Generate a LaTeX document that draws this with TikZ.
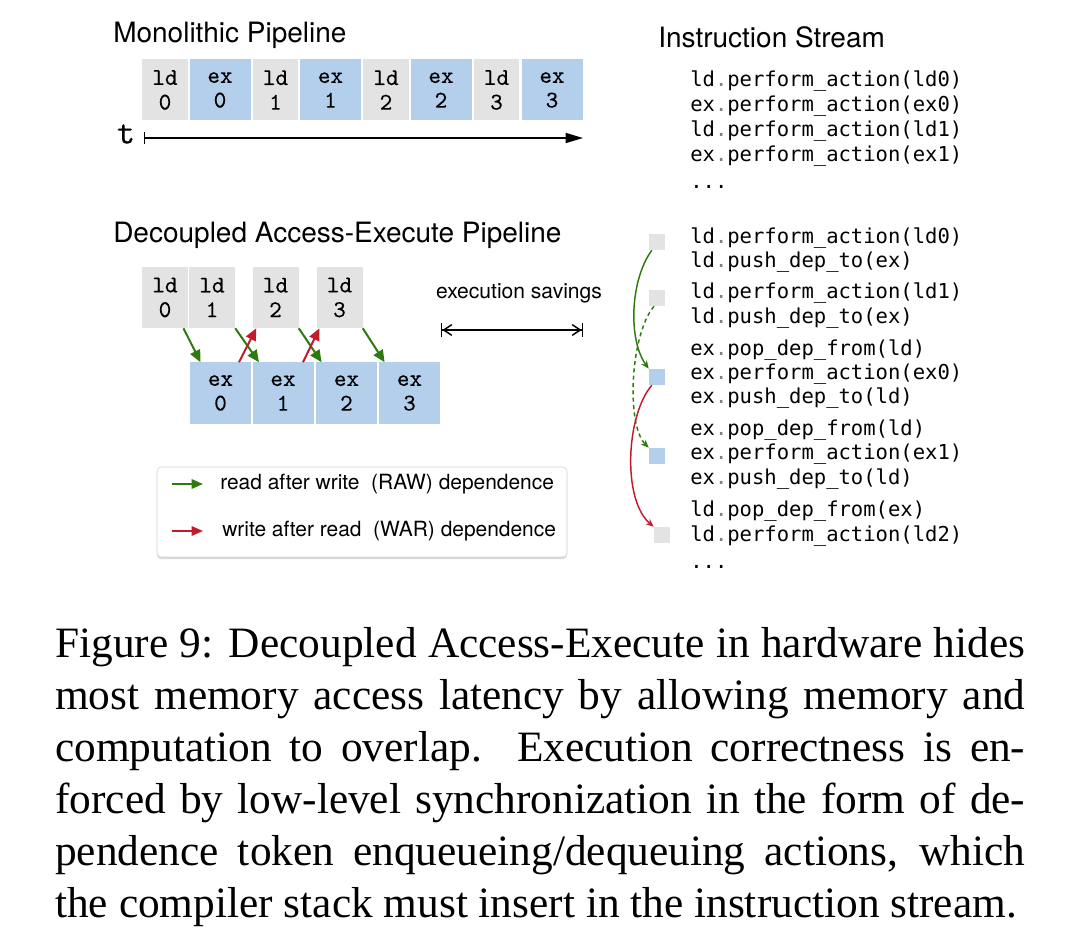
\documentclass[tikz,border=0pt]{standalone}
\usepackage{fontspec}
\setmainfont{Liberation Serif}
\newfontfamily\heros{TeX Gyre Heros}
\newfontfamily\dejamono{DejaVu Sans Mono}
\newfontfamily\blockmono{lmmono10-regular.otf}[FakeBold=0.25]
\usetikzlibrary{arrows.meta,shadows}
\definecolor{ldgray}{RGB}{227,227,227}
\definecolor{exblue}{RGB}{179,207,236}
\definecolor{rawgreen}{RGB}{46,122,14}
\definecolor{warred}{RGB}{196,26,44}
\newcommand\dt{{\color{gray}.}}

\begin{document}
\begin{tikzpicture}[x=0.75pt, y=-0.75pt,
    ldbox/.style={fill=ldgray, minimum width=34pt, minimum height=45.75pt, inner sep=0pt,
      align=center, font=\blockmono\fontsize{18}{18.5}\selectfont},
    exbox/.style={ldbox, fill=exblue, minimum width=45.75pt},
    token/.style={minimum size=12pt, inner sep=0pt},
    heading/.style={anchor=base west, inner sep=0pt, font=\heros\fontsize{21}{21}\selectfont},
    codeline/.style={anchor=mid west, inner sep=0pt, font=\dejamono\fontsize{15.4}{18}\selectfont},
    capline/.style={anchor=base west, inner sep=0pt, font=\fontsize{32.5}{39}\selectfont},
    rawdep/.style={draw=rawgreen, line width=1.5pt, -{Triangle[length=9pt,width=8pt]}},
    wardep/.style={rawdep, draw=warred},
    tokdep/.style={line width=1.1pt, -{Stealth[length=6pt,width=5pt]}}]
          \useasboundingbox (0,0) rectangle (1080,937);

          \node[heading] (monotitle) at (113,43) {Monolithic Pipeline};
          \node[ldbox] (mld0) at (165,90) {ld\\0};
          \node[exbox] (mex0) at (220,90) {ex\\0};
          \node[ldbox] (mld1) at (275.5,90) {ld\\1};
          \node[exbox] (mex1) at (330.5,90) {ex\\1};
          \node[ldbox] (mld2) at (386,90) {ld\\2};
          \node[exbox] (mex2) at (441,90) {ex\\2};
          \node[ldbox] (mld3) at (496.5,90) {ld\\3};
          \node[exbox] (mex3) at (552,90) {ex\\3};

          \node[font=\blockmono\fontsize{26}{26}\selectfont, inner sep=0pt] (tlabel) at (126,134) {t};
          \coordinate (t0) at (144,138);
          \coordinate (t1) at (583,138);
          \draw[line width=1.1pt, {Bar[width=9pt]}-{Triangle[length=13pt,width=7.5pt]}] (t0) -- (t1);

          \node[heading] (daetitle) at (113,243) {Decoupled Access-Execute Pipeline};
          \node[ldbox, minimum width=34.5pt] (dld0) at (165,297.5) {ld\\0};
          \node[ldbox, minimum width=34.5pt] (dld1) at (212,297.5) {ld\\1};
          \node[ldbox, minimum width=34.5pt] (dld2) at (275.5,297.5) {ld\\2};
          \node[ldbox, minimum width=34.5pt] (dld3) at (339.5,297.5) {ld\\3};
          \node[exbox] (dex0) at (220.5,393) {ex\\0};
          \node[exbox] (dex1) at (283,393) {ex\\1};
          \node[exbox] (dex2) at (346.5,393) {ex\\2};
          \node[exbox] (dex3) at (409.5,393) {ex\\3};

          \draw[rawdep] (dld0.-59.5) -- (dex0.123);
          \draw[rawdep] (dld1.south east) -- (dex1.128.7);
          \draw[rawdep] (dld2.south east) -- (dex2.129);
          \draw[rawdep] (dld3.south east) -- (dex3.129);
          \draw[wardep] (dex0.59.7) -- (dld2.238.8);
          \draw[wardep] (dex1.57.7) -- (dld3.237.4);

          \node[font=\heros\fontsize{15.8}{16}\selectfont, inner sep=0pt] (savings) at (519,293) {execution savings};
          \coordinate (save0) at (441,330);
          \coordinate (save1) at (583,330);
          \draw[line width=1.1pt, {Bar[width=11pt]Straight Barb[length=6pt,width=8pt]}-{Straight Barb[length=6pt,width=8pt]Bar[width=11pt]}] (save0) -- (save1);

          \node[draw=gray!35, fill=white, rounded corners=3pt, minimum width=307.5pt, minimum height=67.5pt,
            drop shadow={opacity=0.3, shadow xshift=0pt, shadow yshift=-1.5pt}] (legend) at (362,512) {};
          \coordinate (rawtail) at (172,484);
          \coordinate (rawhead) at (203,484);
          \coordinate (wartail) at (172,531);
          \coordinate (warhead) at (203,531);
          \draw[rawdep, -{Triangle[length=8.5pt,width=7pt]}] (rawtail) -- (rawhead);
          \draw[wardep, -{Triangle[length=8.5pt,width=7pt]}] (wartail) -- (warhead);
          \node[anchor=west, inner sep=0pt, font=\heros\fontsize{15.7}{16}\selectfont] (rawtext) at (220,484) {read after write\ \ (RAW) dependence};
          \node[anchor=west, inner sep=0pt, font=\heros\fontsize{15.7}{16}\selectfont] (wartext) at (222,531) {write after read\ \ (WAR) dependence};

          \node[heading] (streamtitle) at (658,48) {Instruction Stream};
          \node[codeline] (m1) at (690,83) {ld\dt perform\_action(ld0)};
          \node[codeline] (m2) at (690,108) {ex\dt perform\_action(ex0)};
          \node[codeline] (m3) at (690,133) {ld\dt perform\_action(ld1)};
          \node[codeline] (m4) at (690,158) {ex\dt perform\_action(ex1)};
          \node[codeline, anchor=base west] (m5) at (690,189) {...};

          \node[codeline] (d1) at (690,240) {ld\dt perform\_action(ld0)};
          \node[codeline] (d2) at (690,264) {ld\dt push\_dep\_to(ex)};
          \node[codeline] (d3) at (690,295.5) {ld\dt perform\_action(ld1)};
          \node[codeline] (d4) at (690,320.5) {ld\dt push\_dep\_to(ex)};
          \node[codeline] (d5) at (690,352) {ex\dt pop\_dep\_from(ld)};
          \node[codeline] (d6) at (690,376) {ex\dt perform\_action(ex0)};
          \node[codeline] (d7) at (690,400.5) {ex\dt push\_dep\_to(ld)};
          \node[codeline] (d8) at (690,432) {ex\dt pop\_dep\_from(ld)};
          \node[codeline] (d9) at (690,456) {ex\dt perform\_action(ex1)};
          \node[codeline] (d10) at (690,481) {ex\dt push\_dep\_to(ld)};
          \node[codeline] (d11) at (690,513) {ld\dt pop\_dep\_from(ex)};
          \node[codeline] (d12) at (690,538) {ld\dt perform\_action(ld2)};
          \node[codeline, anchor=base west] (d13) at (690,568) {...};

          \node[token, fill=ldgray] (s1) at (657,242) {};
          \node[token, fill=ldgray] (s2) at (657,298) {};
          \node[token, fill=exblue] (s3) at (657,377) {};
          \node[token, fill=exblue] (s4) at (657,456) {};
          \node[token, fill=ldgray] (s5) at (662,535) {};
          \draw[tokdep, rawgreen] (s1.-122) .. controls (630,280) and (628,340) .. (s3.north west);
          \draw[tokdep, rawgreen, dash pattern=on 3pt off 2.5pt] (s2.-110) .. controls (630,335) and (626,425) .. (s4.north west);
          \draw[tokdep, warred] (s3.-122) .. controls (626,415) and (622,500) .. (s5.north west);

          \node[capline] (cap1) at (55,657) {\makebox[727.5pt][s]{Figure 9: Decoupled Access-Execute in hardware hides}};
          \node[capline] (cap2) at (55,709) {\makebox[727.5pt][s]{most memory access latency by allowing memory and}};
          \node[capline] (cap3) at (55,761) {\makebox[727.5pt][s]{computation to overlap.  Execution correctness is en-}};
          \node[capline] (cap4) at (55,813) {\makebox[727.5pt][s]{forced by low-level synchronization in the form of de-}};
          \node[capline] (cap5) at (55,865) {\makebox[727.5pt][s]{pendence token enqueueing/dequeuing actions, which}};
          \node[capline] (cap6) at (55,917) {the compiler stack must insert in the instruction stream.};
        \end{tikzpicture}
\end{document}
